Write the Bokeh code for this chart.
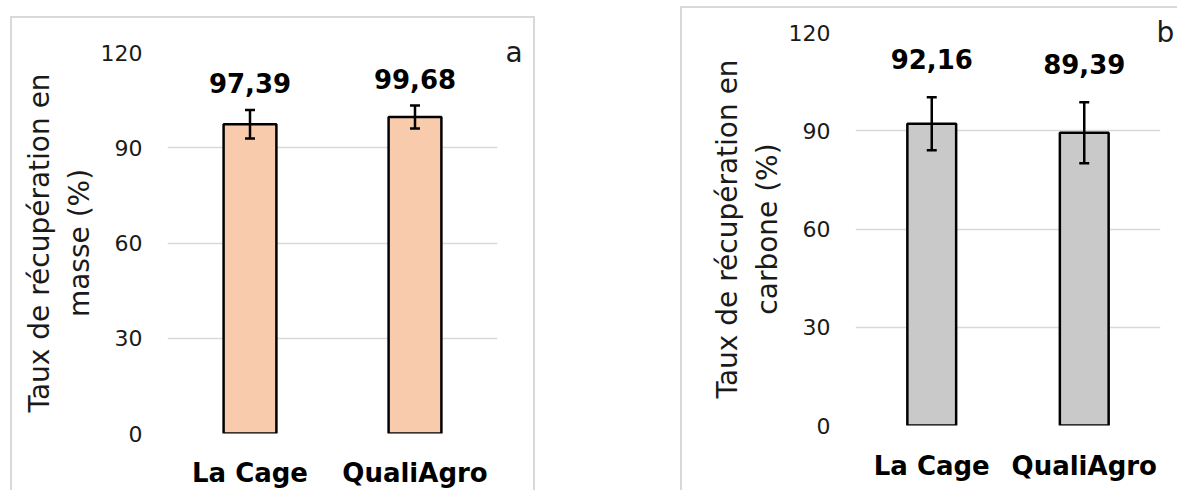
from bokeh.plotting import figure
from bokeh.layouts import row, column
from bokeh.models import (ColumnDataSource, Range1d, FactorRange, FixedTicker,
                          Whisker, TeeHead, LabelSet, Spacer, LinearAxis,
                          CustomJSTickFormatter)
from bokeh.core.properties import value
from bokeh.embed import file_html
from bokeh.resources import INLINE

# ---- data ----
categories = ["La Cage", "QualiAgro"]
mass_values = [97.39, 99.68]
mass_errors = [4.5, 3.6]
mass_labels = ["97,39", "99,68"]
carbon_values = [92.16, 89.39]
carbon_errors = [8.1, 9.3]
carbon_labels = ["92,16", "89,39"]
y_ticks = [0, 30, 60, 90, 120]
y_max = 120

FONT = "DejaVu Sans"
GRID = "#d9d9d9"


def make_panel(values, errors, labels, color, ylabel, letter, width, height,
               mb_left, mb_right, mb_top, mb_bottom, label_off, letter_standoff,
               x_standoff, shadow):
    p = figure(width=width, height=height, x_range=FactorRange(*categories),
               y_range=Range1d(0, y_max), output_backend="svg",
               toolbar_location=None, min_border_left=mb_left,
               min_border_right=mb_right, min_border_top=mb_top,
               min_border_bottom=mb_bottom, outline_line_color=None,
               background_fill_color="white", border_fill_color=None)
    p.styles = {"box-shadow": shadow}

    src = ColumnDataSource(dict(
        x=categories, top=values,
        upper=[v + e for v, e in zip(values, errors)],
        lower=[v - e for v, e in zip(values, errors)],
        ly=[v + e + label_off for v, e in zip(values, errors)],
        text=labels))

    p.vbar(x="x", top="top", width=0.32, source=src, fill_color=color,
           line_color="black", line_width=2.5)

    w = Whisker(base="x", upper="upper", lower="lower", source=src,
                line_color="black", line_width=2.5, level="overlay",
                upper_head=TeeHead(size=10, line_color="black", line_width=2.5),
                lower_head=TeeHead(size=10, line_color="black", line_width=2.5))
    p.add_layout(w)

    ls = LabelSet(x="x", y="ly", text="text", source=src, text_align="center",
                  text_baseline="alphabetic", text_font=value(FONT),
                  text_font_style="bold", text_font_size="26px",
                  text_color="black")
    p.add_layout(ls)

    # panel letter (a / b) drawn as a right-side axis label at y = 120
    letter_axis = LinearAxis(ticker=FixedTicker(ticks=[y_max]),
                             formatter=CustomJSTickFormatter(
                                 args=dict(t=letter), code="return t;"))
    letter_axis.axis_line_color = None
    letter_axis.major_tick_line_color = None
    letter_axis.minor_tick_line_color = None
    letter_axis.major_tick_out = 0
    letter_axis.major_tick_in = 0
    letter_axis.major_label_standoff = letter_standoff
    letter_axis.major_label_text_font = FONT
    letter_axis.major_label_text_font_size = "28px"
    letter_axis.major_label_text_color = "#1a1a1a"
    p.add_layout(letter_axis, "right")

    # grid
    p.xgrid.visible = False
    p.ygrid.grid_line_color = GRID
    p.ygrid.grid_line_width = 1.5
    p.ygrid.ticker = FixedTicker(ticks=y_ticks)

    # y axis
    yax = p.yaxis[0]
    yax.ticker = FixedTicker(ticks=y_ticks)
    yax.axis_line_color = None
    yax.major_tick_line_color = None
    yax.minor_tick_line_color = None
    yax.major_tick_out = 0
    yax.major_tick_in = 0
    yax.major_label_standoff = 25
    yax.major_label_text_font = FONT
    yax.major_label_text_font_size = "22px"
    yax.major_label_text_color = "#1a1a1a"
    yax.axis_label = ylabel
    yax.axis_label_text_font = FONT
    yax.axis_label_text_font_size = "28px"
    yax.axis_label_text_font_style = "normal"
    yax.axis_label_text_color = "#1a1a1a"
    yax.axis_label_text_line_height = 1.2
    yax.axis_label_standoff = 2

    # x axis
    p.xaxis.axis_line_color = None
    p.xaxis.major_tick_line_color = None
    p.xaxis.minor_tick_line_color = None
    p.xaxis.major_tick_out = 0
    p.xaxis.major_tick_in = 0
    p.xaxis.major_label_standoff = x_standoff
    p.xaxis.major_label_text_font = FONT
    p.xaxis.major_label_text_font_style = "bold"
    p.xaxis.major_label_text_font_size = "26px"
    p.xaxis.major_label_text_color = "black"
    return p


p1 = make_panel(mass_values, mass_errors, mass_labels, "#f8cbad",
                "Taux de récupération en\nmasse (%)", "a",
                width=525, height=474, mb_left=157, mb_right=38, mb_top=36,
                mb_bottom=54, label_off=5.3, letter_standoff=8, x_standoff=24,
                shadow="inset 2px 2px 0 " + GRID + ", inset -2px 0 0 " + GRID)

p2 = make_panel(carbon_values, carbon_errors, carbon_labels, "#c9c9c9",
                "Taux de récupération en\ncarbone (%)", "b",
                width=497, height=484, mb_left=175, mb_right=12, mb_top=26,
                mb_bottom=65, label_off=8.6, letter_standoff=-4, x_standoff=25,
                shadow="inset 2px 2px 0 " + GRID)

layout = row(Spacer(width=10), column(Spacer(height=16), p1),
             Spacer(width=145), column(Spacer(height=6), p2))

open("out.html", "w").write(file_html(layout, INLINE))
